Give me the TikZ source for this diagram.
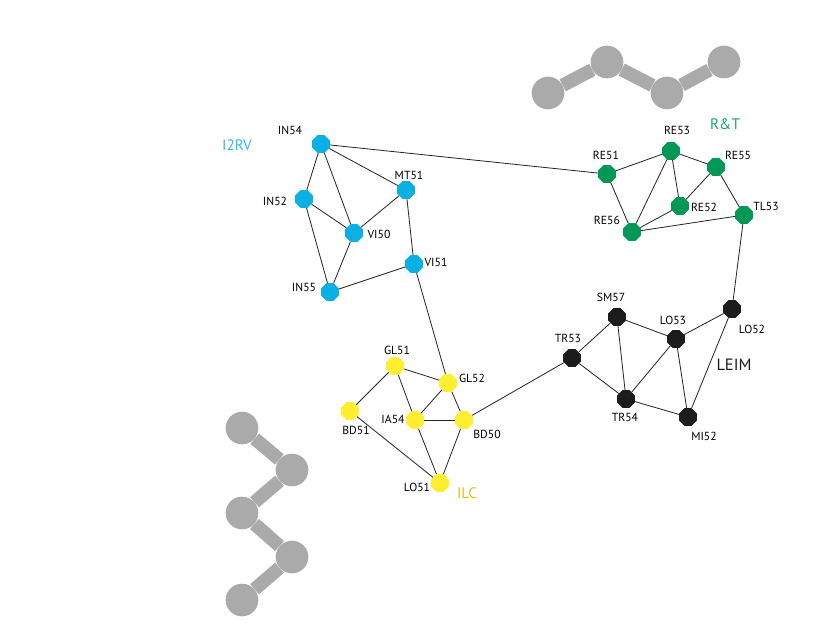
\documentclass[tikz,border=0pt]{standalone}
\usepackage{fontspec}
\setmainfont{PT Sans}
\usetikzlibrary{shapes.geometric}
\definecolor{irvcol}{RGB}{10,176,228}
\definecolor{rtcol}{RGB}{0,152,84}
\definecolor{ilccol}{RGB}{255,238,48}
\definecolor{ilctxt}{RGB}{222,192,20}
\definecolor{leimcol}{RGB}{28,28,28}
\definecolor{chaincol}{RGB}{170,170,170}
\tikzset{
  stn/.style={regular polygon, regular polygon sides=8, minimum size=0.57cm, inner sep=0pt},
  lab/.style={font=\fontsize{10}{11}\selectfont, inner sep=0pt},
  grp/.style={font=\fontsize{13}{14}\selectfont, inner sep=0pt},
  link/.style={line width=0.7pt, black!85},
  ball/.style={circle, fill=chaincol, minimum size=0.98cm, inner sep=0pt},
  bar/.style={line width=11.5pt, chaincol}
}
\newcommand{\stations}[2]{
  \foreach \n/\x/\y/\lx/\ly in {#2} {
    \node[stn, fill=#1] (\n) at (\x,\y) {};
    \node[lab] (\n-l) at (\lx,\ly) {\n};
  }
}
\begin{document}
\begin{tikzpicture}[x=0.03cm, y=-0.03cm]
  \useasboundingbox (0,0) rectangle (816,635);
  % grey chains
  \foreach \n/\x/\y in {t1/548/93, t2/607/62, t3/667/93, t4/724/62,
                        b1/242/428, b2/292/470, b3/242/513, b4/292/557, b5/242/600}
    \node[ball] (\n) at (\x,\y) {};
  \draw[bar] (t1) -- (t2) -- (t3) -- (t4);
  \draw[bar] (b1) -- (b2) -- (b3) -- (b4) -- (b5);
  % stations
  \stations{irvcol}{IN54/321/144/290/130, IN52/304/199/275/201, VI50/354/233/379/234,
                    MT51/406/190/409/175, VI51/414/264/436/262, IN55/330/292/304/287}
  \stations{rtcol}{RE51/607/174/606/155, RE53/671/151/677/130, RE55/716/167/738/155,
                   RE52/680/206/704/207, RE56/632/232/607/220, TL53/744/215/766/206}
  \stations{ilccol}{GL51/395/366/397/350, GL52/448/383/472/378, BD51/350/411/356/430,
                    IA54/415/420/393/419, BD50/464/420/487/434, LO51/440/483/417/487}
  \stations{leimcol}{SM57/617/317/611/297, LO53/676/339/673/320, LO52/732/309/752/329,
                     TR53/572/358/568/338, TR54/626/399/625/417, MI52/688/417/704/436}
  % group names
  \node[grp, text=irvcol!85!white] (I2RV) at (237,145) {I2RV};
  \node[grp, text=rtcol!90!white] (RT) at (725,124) {R\&T};
  \node[grp, text=ilctxt] (ILC) at (467,493) {ILC};
  \node[grp, text=leimcol, font=\fontsize{14}{15}\selectfont] (LEIM) at (734,365) {LEIM};
  % links
  \foreach \a/\b in {IN54/IN52, IN54/VI50, IN54/MT51, IN54/RE51, IN52/VI50, IN52/IN55,
                     MT51/VI50, MT51/VI51, VI50/IN55, IN55/VI51, VI51/GL52,
                     RE51/RE53, RE51/RE56, RE53/RE55, RE53/RE56, RE53/RE52, RE55/RE52,
                     RE55/TL53, RE52/RE56, RE56/TL53, TL53/LO52,
                     LO52/LO53, LO52/MI52, LO53/SM57, LO53/TR54, LO53/MI52, SM57/TR53,
                     SM57/TR54, TR53/TR54, TR54/MI52, TR53/BD50,
                     GL51/GL52, GL51/BD51, GL51/IA54, GL52/IA54, GL52/BD50, IA54/BD50,
                     IA54/LO51, BD50/LO51, BD51/LO51}
    \draw[link] (\a) -- (\b);
\end{tikzpicture}
\end{document}
